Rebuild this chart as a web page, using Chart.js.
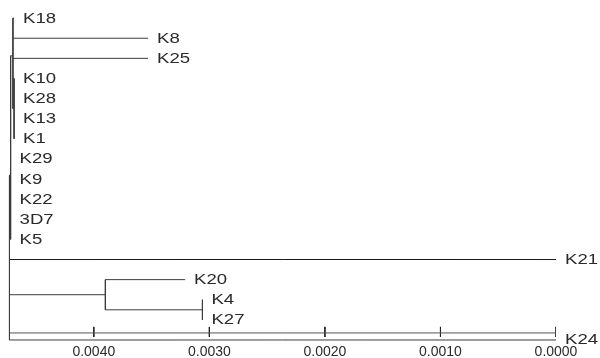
<!DOCTYPE html>
<html>
<head>
<meta charset="utf-8">
<script src="https://cdn.jsdelivr.net/npm/chart.js@4/dist/chart.umd.min.js"></script>
<style>
	html, body { margin: 0; padding: 0; background: #fff; }
	#wrap { position: relative; width: 600px; height: 358px; }
</style>
</head>
<body>
<div id="wrap"><canvas id="tree"></canvas></div>
<script>
// Leaves, top to bottom, with the distance where each branch ends
const leafLabels = ['K18', 'K8', 'K25', 'K10', 'K28', 'K13', 'K1', 'K29', 'K9', 'K22', '3D7', 'K5', 'K21', 'K20', 'K4', 'K27', 'K24'];
const leafEnds = [0.00469, 0.00353, 0.00353, 0.00469, 0.00469, 0.00469, 0.00469, 0.00472, 0.00472, 0.00472, 0.00472, 0.00472, 0, 0.00321, 0.00306, 0.00306, 0];

// Internal nodes (children listed before parents)
const nodeNames = ['C1', 'A', 'T', 'N3', 'N2', 'root'];
const nodeHeights = [0.00469, 0.00470, 0.00472, 0.00306, 0.00390, 0.00473];
const nodeChildren = [
	['K10', 'K28', 'K13', 'K1'],
	['K18', 'K8', 'K25', 'C1'],
	['A', 'K29', 'K9', 'K22', '3D7', 'K5'],
	['K4', 'K27'],
	['K20', 'N3'],
	['T', 'K21', 'N2', 'K24'],
];

// Scale bar
const tickValues = [0.004, 0.003, 0.002, 0.001, 0];
const axisMax = 0.00476;
const scaleBarY = 15.65;

const lineColor = '#3c3c3c';
const darkLine = '#1a1a1a';
const textColor = '#2a2a2a';

// Work out y position and height of every node
const pos = {};
const height = {};
leafLabels.forEach((name, i) => { pos[name] = i; height[name] = leafEnds[i]; });
nodeNames.forEach((name, i) => {
	const ys = nodeChildren[i].map((c) => pos[c]);
	pos[name] = ys.reduce((a, b) => a + b, 0) / ys.length;
	height[name] = nodeHeights[i];
});

const datasets = [];
const seg = (x1, y1, x2, y2, color) => datasets.push({
	data: [{x: x1, y: y1}, {x: x2, y: y2}],
	borderColor: color,
	borderWidth: 1,
	pointRadius: 0,
	showLine: true,
	fill: false,
});

nodeNames.forEach((name, i) => {
	const kids = nodeChildren[i];
	const ys = kids.map((c) => pos[c]);
	const h = height[name];
	seg(h, Math.min(...ys), h, Math.max(...ys), lineColor);
	for (const c of kids) {
		seg(h, pos[c], height[c], pos[c], c === 'K21' ? darkLine : lineColor);
	}
});

// scale bar line and its tick marks
seg(height.root, scaleBarY, 0, scaleBarY, '#555');
for (const v of tickValues) seg(v, scaleBarY - 0.3, v, scaleBarY + 0.2, '#222');

const leafText = {
	id: 'leafText',
	afterDatasetsDraw(chart) {
		const {ctx, scales: {x, y}} = chart;
		ctx.save();
		ctx.fillStyle = textColor;
		ctx.font = '14.5px "Liberation Sans", Arial, sans-serif';
		ctx.textBaseline = 'middle';
		ctx.textAlign = 'left';
		leafLabels.forEach((name, i) => {
			ctx.save();
			ctx.translate(x.getPixelForValue(leafEnds[i]) + 9, y.getPixelForValue(i) + 0.5);
			ctx.scale(1.28, 1);
			ctx.fillText(name, 0, 0);
			ctx.restore();
		});
		ctx.restore();
	},
};

new Chart(document.querySelector('#tree'), {
	type: 'scatter',
	data: {datasets},
	plugins: [leafText],
	options: {
		responsive: true,
		maintainAspectRatio: false,
		animation: false,
		layout: {padding: {left: 6, right: 44, top: 0, bottom: 0}},
		plugins: {legend: {display: false}, tooltip: {enabled: false}},
		scales: {
			x: {
				type: 'linear',
				reverse: true,
				min: 0,
				max: axisMax,
				grid: {display: false, drawTicks: false},
				border: {display: false},
				afterBuildTicks: (scale) => { scale.ticks = tickValues.map((v) => ({value: v})); },
				afterFit: (scale) => { scale.height = 16; },
				ticks: {
					padding: 2,
					color: textColor,
					font: {family: '"Liberation Sans", Arial, sans-serif', size: 14},
					maxRotation: 0,
					callback: (v) => Number(v).toFixed(4),
				},
			},
			y: {
				type: 'linear',
				reverse: true,
				min: -0.9,
				max: 16.1,
				display: false,
			},
		},
	},
});
</script>
</body>
</html>
